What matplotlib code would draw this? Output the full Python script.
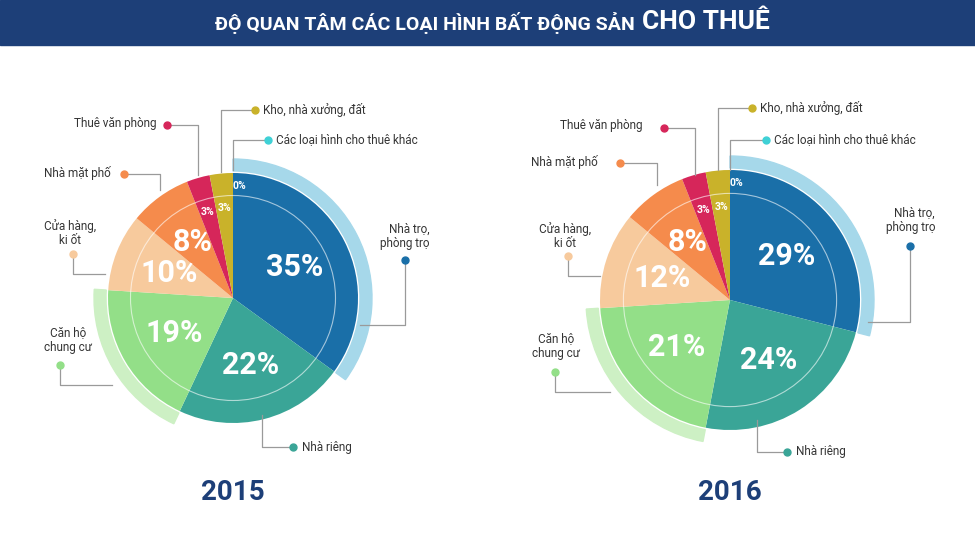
import math
import matplotlib.pyplot as plt
from matplotlib.patches import Wedge, Rectangle, Circle

plt.rcParams["font.family"] = ["Roboto", "DejaVu Sans"]

categories = ["Nhà trọ,\nphòng trọ", "Nhà riêng", "Căn hộ\nchung cư", "Cửa hàng,\nki ốt",
              "Nhà mặt phố", "Thuê văn phòng", "Kho, nhà xưởng, đất", "Các loại hình cho thuê khác"]
values_2015 = [35, 22, 19, 10, 8, 3, 3, 0]
values_2016 = [29, 24, 21, 12, 8, 3, 3, 0]
years = ["2015", "2016"]

colors = ["#1a6fa8", "#3aa597", "#93df88", "#f7ca9d", "#f58b4c", "#d6265a", "#c9b22a", "#3fd1d6"]
band_colors = {0: "#a6d8ea", 2: "#cdf0c4"}

H = 549
fig = plt.figure(figsize=(9.75, 5.49), dpi=100)
ax = fig.add_axes([0, 0, 1, 1])

# title banner
ax.add_patch(Rectangle((0, H - 45), 975, 45, color="#1d3f78"))
ax.text(640, H - 23, "ĐỘ QUAN TÂM CÁC LOẠI HÌNH BẤT ĐỘNG SẢN ", color="white",
        fontsize=14, fontweight="bold", ha="right", va="center")
ax.text(642, H - 22, "CHO THUÊ", color="white", fontsize=19, fontweight="bold",
        ha="left", va="center")


def draw_pie(values, cx, cy, r, year, callouts):
    cy = H - cy
    ax.pie(values, colors=colors, startangle=90, counterclock=False, center=(cx, cy),
           radius=r, wedgeprops=dict(linewidth=0), frame=True)
    # outer light bands
    ang = 90
    for i, v in enumerate(values):
        span = v * 3.6
        if i in band_colors:
            ax.add_patch(Wedge((cx, cy), r + 14, ang - span, ang, width=12,
                               color=band_colors[i], zorder=1))
        ang -= span
    ax.add_patch(Circle((cx, cy), r * 0.82, fill=False, ec="white", lw=0.8, alpha=0.6, zorder=3))
    # percentage labels
    ang = 90
    for i, v in enumerate(values):
        span = v * 3.6
        mid = math.radians(ang - span / 2)
        if v >= 5:
            d, fs = 0.55, 22
        else:
            d, fs = 0.72, 7.5
        if v == 0:
            d = 0.9
            mid = math.radians(87)
        ax.text(cx + d * r * math.cos(mid), cy + d * r * math.sin(mid), f"{v}%",
                color="white", fontsize=fs, fontweight="bold", ha="center", va="center",
                zorder=5)
        ang -= span
    ax.text(cx, H - 493, year, color="#1d3f78", fontsize=20, fontweight="bold",
            ha="center", va="center")
    # callouts
    for i, (pts, tx, ty, ha) in enumerate(callouts):
        xs = [p[0] for p in pts]
        ys = [H - p[1] for p in pts]
        ax.plot(xs, ys, color="#9a9a9a", lw=0.9, zorder=6)
        ax.plot(xs[0], ys[0], "o", color=colors[i], ms=5, zorder=7)
        ax.text(tx, H - ty, categories[i], fontsize=8.5, color="#333333", ha=ha,
                va="center", linespacing=1.1)


left = [
    ([(405, 260), (405, 325), (360, 325)], 430, 236, "right"),
    ([(293, 447), (262, 447), (262, 415)], 302, 447, "left"),
    ([(60, 365), (60, 385), (112, 385)], 68, 340, "center"),
    ([(73, 254), (73, 274), (105, 274)], 70, 233, "center"),
    ([(124, 174), (160, 174), (160, 190)], 111, 173, "right"),
    ([(167, 125), (198, 125), (198, 175)], 157, 123, "right"),
    ([(255, 110), (221, 110), (221, 172)], 263, 110, "left"),
    ([(268, 140), (233, 140), (233, 170)], 276, 140, "left"),
]
right = [
    ([(910, 246), (910, 322), (868, 322)], 935, 220, "right"),
    ([(787, 452), (757, 452), (757, 420)], 796, 452, "left"),
    ([(555, 372), (555, 392), (610, 392)], 556, 346, "center"),
    ([(568, 256), (568, 276), (600, 276)], 565, 236, "center"),
    ([(620, 163), (657, 163), (657, 185)], 598, 162, "right"),
    ([(664, 128), (695, 128), (695, 175)], 643, 126, "right"),
    ([(752, 108), (718, 108), (718, 170)], 760, 108, "left"),
    ([(766, 140), (730, 140), (730, 170)], 774, 140, "left"),
]

draw_pie(values_2015, 233, 298, 125, years[0], left)
draw_pie(values_2016, 730, 300, 130, years[1], right)
ax.set_xlim(0, 975)
ax.set_ylim(0, H)
ax.set_aspect("equal")
ax.axis("off")

fig.savefig("out.png", dpi=100, facecolor="white")
